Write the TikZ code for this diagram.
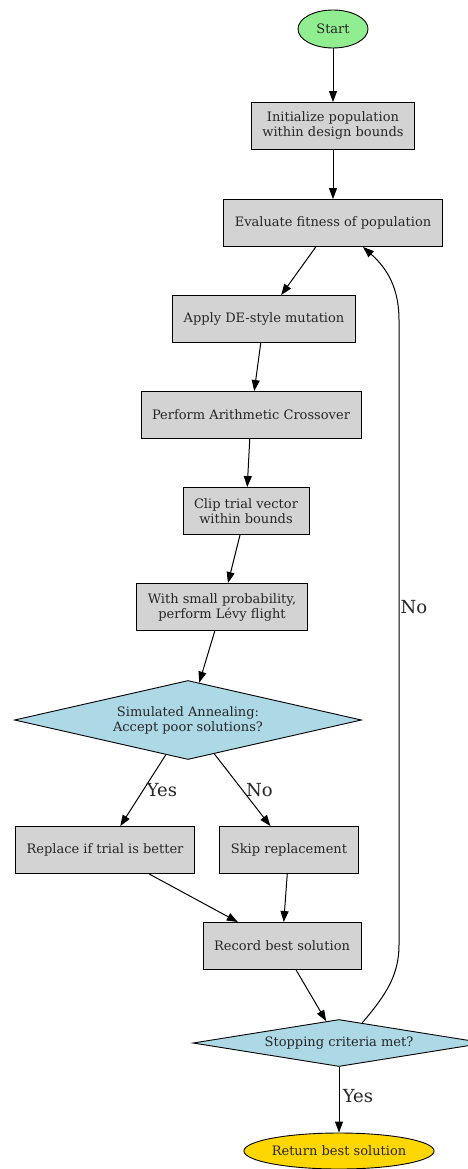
\documentclass[tikz,border=0pt]{standalone}
\usepackage{fontspec}
\setmainfont{DejaVu Serif}
\usetikzlibrary{shapes.geometric,arrows.meta}
\definecolor{startgreen}{HTML}{90EE90}
\definecolor{boxgray}{HTML}{D3D3D3}
\definecolor{decblue}{HTML}{ADD8E6}
\definecolor{endgold}{HTML}{FFD700}

\begin{document}
\begin{tikzpicture}[x=1pt,y=-1pt,line width=0.9pt,
	every node/.style={font=\fontsize{13}{15}\selectfont,text=black!85},
	stepbox/.style={rectangle,draw,fill=boxgray,minimum height=47pt,inner xsep=11pt,align=center},
	decision/.style={diamond,draw,fill=decblue,align=center,inner sep=0pt},
	terminal/.style={ellipse,draw,inner sep=0pt},
	flow/.style={-{Triangle[length=11pt,width=8pt]},line width=1pt},
	edgelabel/.style={font=\fontsize{18}{20}\selectfont}]
	\useasboundingbox (0,0) rectangle (467,1169);

	\node[terminal,fill=startgreen,minimum width=70pt,minimum height=38pt] (start) at (333,29) {Start};
	\node[stepbox] (init) at (333,126) {Initialize population\\within design bounds};
	\node[stepbox] (eval) at (333,223) {Evaluate fitness of population};
	\node[stepbox] (mutate) at (264,319) {Apply DE-style mutation};
	\node[stepbox] (cross) at (251,415) {Perform Arithmetic Crossover};
	\node[stepbox] (clip) at (246,511) {Clip trial vector\\within bounds};
	\node[stepbox] (levy) at (222,607) {With small probability,\\perform Lévy flight};
	\node[decision,shape aspect=4.4,minimum width=347pt,minimum height=79pt] (anneal) at (188,720) {Simulated Annealing:\\Accept poor solutions?};
	\node[stepbox] (replace) at (105,850) {Replace if trial is better};
	\node[stepbox] (skip) at (289,850) {Skip replacement};
	\node[stepbox] (record) at (282,946) {Record best solution};
	\node[decision,shape aspect=6.2,minimum width=292pt,minimum height=47pt] (stop) at (339,1043) {Stopping criteria met?};
	\node[terminal,fill=endgold,minimum width=188pt,minimum height=36pt] (result) at (339,1151) {Return best solution};

	\draw[flow] (start) -- (init);
	\draw[flow] (init) -- (eval);
	\draw[flow] (eval) -- (mutate);
	\draw[flow] (mutate) -- (cross);
	\draw[flow] (cross) -- (clip);
	\draw[flow] (clip) -- (levy);
	\draw[flow] (levy) -- (anneal);
	\draw[flow] (anneal) -- node[edgelabel,right,pos=0.5]{Yes} (replace);
	\draw[flow] (anneal) -- node[edgelabel,right,pos=0.5]{No} (skip);
	\draw[flow] (replace) -- (record);
	\draw[flow] (skip) -- (record);
	\draw[flow] (record) -- (stop);
	\draw[flow] (stop) -- node[edgelabel,right,pos=0.45]{Yes} (result);

	% loop back while not converged
	\draw[flow] (stop.41) .. controls (386,995) and (399,975) .. (399,945) -- (399,320) node[edgelabel,right,pos=0.54,inner sep=1pt]{No} .. controls (399,282) and (382,264) .. ([xshift=30pt]eval.south);
\end{tikzpicture}
\end{document}
